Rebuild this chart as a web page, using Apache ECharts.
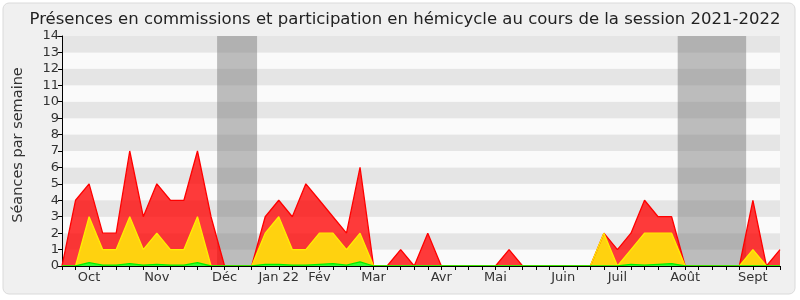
<!DOCTYPE html>
<html>
<head>
<meta charset="utf-8">
<script src="https://cdn.jsdelivr.net/npm/echarts@6/dist/echarts.min.js"></script>
<style>
  html, body { margin: 0; padding: 0; background: #ffffff; }
  #c { width: 800px; height: 300px; }
</style>
</head>
<body>
<div id="c"></div>
<script>
// Week index 0..53 (session 2021-2022, weekly)
const titleText = "Présences en commissions et participation en hémicycle au cours de la session 2021-2022";
const yAxisName = "Séances par semaine";

// Month tick labels and the week index where each is shown
const monthLabels = ["Oct", "Nov", "Déc", "Jan 22", "Fév", "Mar", "Avr", "Mai", "Juin", "Juil", "Août", "Sept"];
const monthWeekIdx = [2, 7, 12, 16, 19, 23, 28, 32, 37, 41, 46, 51];

// Total sessions per week (red top)
const totalSessions = [0, 4, 5, 2, 2, 7, 3, 5, 4, 4, 7, 3, 0, 0, 0, 3, 4, 3, 5, 4, 3, 2, 6, 0, 0, 1, 0, 2, 0, 0,
                       0, 0, 0, 1, 0, 0, 0, 0, 0, 0, 2, 1, 2, 4, 3, 3, 0, 0, 0, 0, 0, 4, 0, 1];
// Commission presences (yellow top)
const commissionSessions = [0, 0, 3, 1, 1, 3, 1, 2, 1, 1, 3, 0, 0, 0, 0, 2, 3, 1, 1, 2, 2, 1, 2, 0, 0, 0, 0, 0, 0, 0,
                            0, 0, 0, 0, 0, 0, 0, 0, 0, 0, 2, 0, 1, 2, 2, 2, 0, 0, 0, 0, 0, 1, 0, 0];
// Hemicycle participation (green)
const hemicycleSessions = [0, 0, 0.2, 0.05, 0.05, 0.15, 0.05, 0.1, 0.05, 0.05, 0.2, 0, 0, 0, 0, 0.1, 0.1, 0.05, 0.05, 0.1, 0.15, 0.05, 0.25, 0, 0, 0, 0, 0, 0, 0,
                           0, 0, 0, 0, 0, 0, 0, 0, 0, 0, 0, 0, 0.1, 0.05, 0.1, 0.15, 0, 0, 0, 0, 0, 0, 0, 0];
// Recess periods (week index ranges)
const recessStart = [11.45, 45.45];
const recessEnd = [14.4, 50.5];

const labelMap = {};
monthWeekIdx.forEach((w, k) => { labelMap[w] = monthLabels[k]; });
const toPairs = arr => arr.map((v, i) => [i, v]);
const nWeeks = totalSessions.length - 1;

const FONT = "DejaVu Sans";
const chart = echarts.init(document.getElementById('c'), null, { renderer: 'canvas' });
chart.setOption({
  animation: false,
  graphic: [
    { type: 'rect', z: -100, silent: true,
      shape: { x: 3, y: 3, width: 792, height: 291, r: 6 },
      style: { fill: '#f0f0f0', stroke: '#dadada', lineWidth: 1 } },
    { type: 'text', z: 100, silent: true, x: 18, y: 145, rotation: Math.PI / 2,
      style: { text: yAxisName, fontFamily: FONT, fontSize: 14.5, fill: '#333',
               textAlign: 'center', textVerticalAlign: 'middle' } }
  ],
  title: {
    text: titleText, left: 400, top: 6, textAlign: 'center',
    textStyle: { fontFamily: FONT, fontSize: 16.5, fontWeight: 'normal', color: '#222' }
  },
  grid: { left: 62, right: 20, top: 36, bottom: 34, containLabel: false },
  xAxis: [{
    type: 'value', min: 0, max: nWeeks, interval: 1, position: 'bottom', z: 10,
    axisLine: { show: true, onZero: false, lineStyle: { color: '#000', width: 1 } },
    axisTick: { show: true, length: 4, lineStyle: { color: '#000' } },
    axisLabel: { show: true, margin: 5, fontFamily: FONT, fontSize: 13, color: '#333',
                 formatter: v => labelMap[v] || '' },
    splitLine: { show: false }
  }, {
    type: 'value', min: 0, max: nWeeks, interval: 1, position: 'top',
    axisLine: { show: false },
    axisTick: { show: true, inside: true, length: 2, lineStyle: { color: '#000' } },
    axisLabel: { show: false },
    splitLine: { show: false }
  }],
  yAxis: {
    type: 'value', min: 0, max: 14, interval: 1,
    axisLine: { show: true, lineStyle: { color: '#000', width: 1 } },
    axisTick: { show: true, length: 4, lineStyle: { color: '#000' } },
    axisLabel: { fontFamily: FONT, fontSize: 13, color: '#333', margin: 3 },
    splitLine: { show: false },
    splitArea: { show: true, areaStyle: { color: ['#fafafa', '#e5e5e5'] } }
  },
  series: [
    {
      type: 'line', data: [], silent: true,
      markArea: {
        silent: true,
        itemStyle: { color: 'rgba(125,125,125,0.5)' },
        data: recessStart.map((s, k) => [{ xAxis: s }, { xAxis: recessEnd[k] }])
      }
    },
    {
      name: 'Total', type: 'line', data: toPairs(totalSessions), symbol: 'none',
      lineStyle: { color: '#ff0000', width: 1.3 },
      areaStyle: { color: 'rgba(255,0,0,0.77)', opacity: 1, origin: 'start' }
    },
    {
      name: 'Commissions', type: 'line', data: toPairs(commissionSessions), symbol: 'none',
      lineStyle: { color: '#ffee00', width: 1.3 },
      areaStyle: { color: '#ffd20f', opacity: 1, origin: 'start' }
    },
    {
      name: 'Hémicycle', type: 'line', data: toPairs(hemicycleSessions), symbol: 'none',
      lineStyle: { color: '#00ee00', width: 1.3 },
      areaStyle: { color: '#33ff33', opacity: 1, origin: 'start' }
    }
  ]
});
</script>
</body>
</html>
